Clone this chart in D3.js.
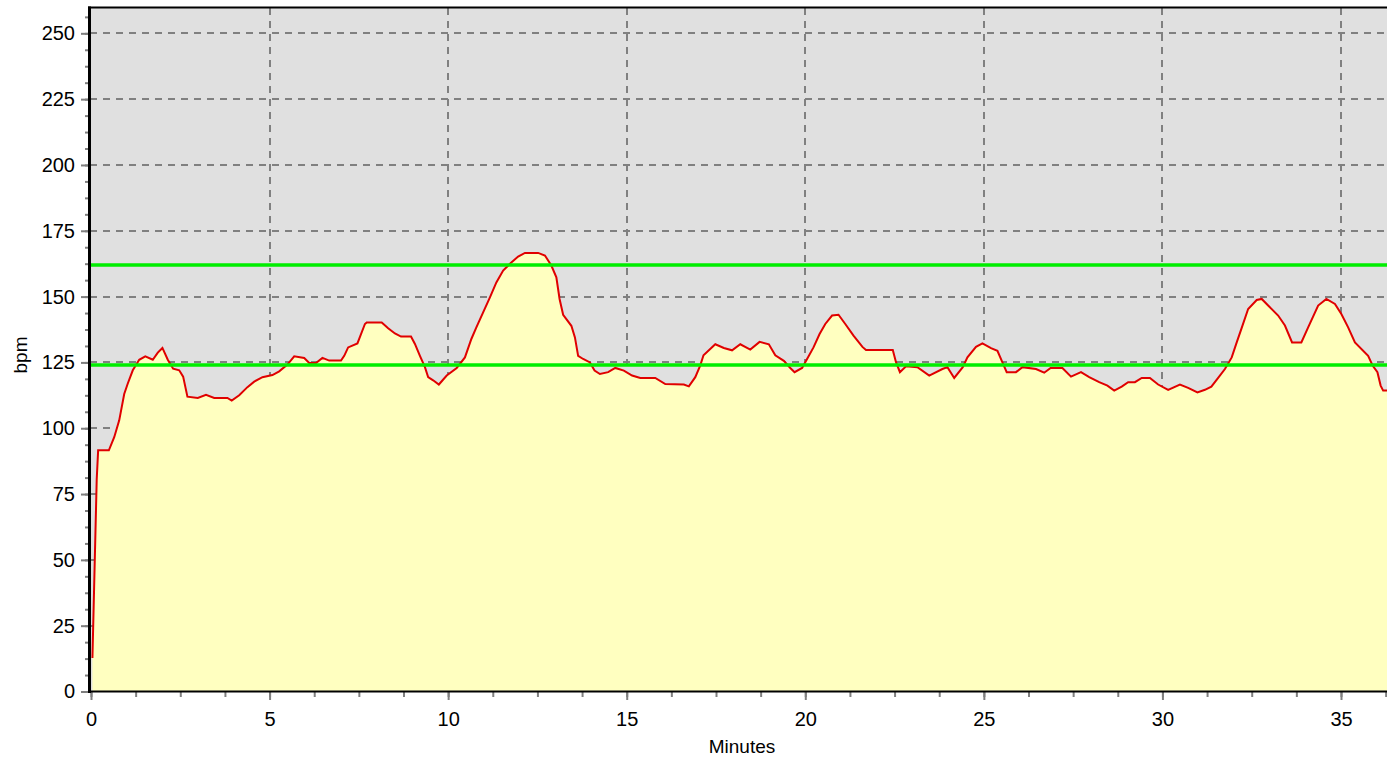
<!DOCTYPE html>
<html>
<head>
<meta charset="utf-8">
<script src="https://cdn.jsdelivr.net/npm/d3@7"></script>
<style>
html,body{margin:0;padding:0;background:#ffffff;}
svg{display:block;}
</style>
</head>
<body>
<svg id="chart" width="1387" height="759"></svg>
<script>
const minutes = [0.04,0.16,0.2,0.5,0.65,0.79,0.93,1.03,1.17,1.35,1.52,1.73,1.87,2.0,2.15,2.3,2.47,2.58,2.7,2.99,3.22,3.45,3.82,3.94,4.15,4.38,4.57,4.8,5.08,5.27,5.5,5.69,5.97,6.11,6.3,6.48,6.67,7.0,7.09,7.2,7.46,7.67,7.72,8.14,8.32,8.51,8.68,8.96,9.07,9.21,9.35,9.44,9.58,9.74,9.96,10.24,10.47,10.65,10.79,10.98,11.17,11.35,11.54,11.77,11.96,12.15,12.52,12.71,12.89,13.03,13.12,13.22,13.45,13.55,13.64,13.78,13.97,14.1,14.25,14.48,14.68,14.92,15.15,15.38,15.8,16.08,16.6,16.74,16.92,17.06,17.15,17.48,17.72,17.95,18.18,18.46,18.72,18.98,19.16,19.4,19.58,19.7,19.91,20.05,20.23,20.4,20.56,20.75,20.93,21.12,21.35,21.6,21.7,22.45,22.54,22.65,22.82,23.14,23.47,23.84,23.98,24.17,24.41,24.54,24.78,24.96,25.2,25.38,25.52,25.64,25.9,26.08,26.46,26.69,26.87,27.2,27.44,27.72,27.95,28.23,28.46,28.65,28.86,29.04,29.23,29.42,29.65,29.88,30.16,30.49,30.72,30.98,31.19,31.37,31.56,31.75,31.94,32.08,32.22,32.4,32.64,32.78,32.96,33.24,33.43,33.63,33.89,34.08,34.36,34.59,34.83,35.01,35.2,35.39,35.76,35.89,36.02,36.11,36.18,36.4];
const bpm = [12.7,80.5,91.6,91.6,96.6,103,113,117,122,126,127.3,126,128.7,130.5,126,122.6,122,119.6,112,111.5,112.7,111.5,111.5,110.5,112.5,115.6,117.7,119.4,120.2,121.6,124.2,127.3,126.7,124.8,124.8,126.7,125.7,125.7,127.5,130.7,132.2,139.6,140.2,140.2,138,136,134.8,134.8,132,127.5,123.2,119.4,118.2,116.6,120,122.9,126.9,133.9,138.3,144,149.7,155.4,159.9,163,165.2,166.6,166.6,165.6,161.8,157.3,149.1,143.1,138.9,134.5,127.5,126.3,125,121.9,120.6,121.3,122.9,121.9,120,119.1,119.1,116.8,116.6,115.9,119.4,123.9,127.7,131.9,130.5,129.6,131.9,129.9,132.8,131.9,127.7,125.6,122.9,121.3,122.9,126.3,130.7,135.8,139.6,142.8,143.1,139.6,135.2,130.9,129.7,129.7,125.1,121.3,123.5,123.2,120,122.5,123.2,119.1,123.2,126.9,130.9,132.2,130.4,129.4,125,121.3,121.3,123.2,122.5,121.1,122.9,122.9,119.6,121.3,119.4,117.5,116.2,114.3,115.8,117.5,117.5,119.1,119.1,116.6,114.6,116.6,115.3,113.6,114.6,115.8,119.1,122.5,126.9,132.6,138.1,145.3,148.7,149.1,146.6,142.8,139,132.6,132.6,138.3,146.6,149.1,147.2,143.4,138.3,132.6,127.5,123.7,121.3,116.2,114.3,114.3];
const zoneLimits = [162, 124];
const xTickValues = [0,5,10,15,20,25,30,35];
const xMinorTicks = d3.range(0, 36.3, 1.25);
const yTickValues = [0,25,50,75,100,125,150,175,200,225,250];
const yMinorTicks = d3.range(0, 260, 6.25);
const xLabel = "Minutes";
const yLabel = "bpm";

const svg = d3.select("#chart");
const plotLeft = 90, plotRight = 1387, plotTop = 8, plotBottom = 691.5;

const x = d3.scaleLinear().domain([0, 35]).range([91, 1341]);
const y = d3.scaleLinear().domain([0, 260]).range([691.5, 7]);

const FONT = "'Liberation Sans', Arial, sans-serif";

svg.append("defs").append("clipPath").attr("id","clip")
  .append("rect").attr("x", plotLeft).attr("y", plotTop)
  .attr("width", plotRight - plotLeft).attr("height", plotBottom - plotTop);

// background
svg.append("rect").attr("x", plotLeft).attr("y", plotTop)
  .attr("width", plotRight - plotLeft).attr("height", plotBottom - plotTop)
  .attr("fill", "#e0e0e0");

const plot = svg.append("g").attr("clip-path", "url(#clip)");

// gridlines
plot.selectAll("line.hgrid").data(yTickValues.filter(d => d > 0)).join("line")
  .attr("x1", plotLeft).attr("x2", plotRight)
  .attr("y1", d => Math.round(y(d))).attr("y2", d => Math.round(y(d)))
  .attr("stroke", "#808080").attr("stroke-width", 2).attr("stroke-dasharray", "7,6");
plot.selectAll("line.vgrid").data(xTickValues.filter(d => d > 0)).join("line")
  .attr("y1", plotTop).attr("y2", plotBottom)
  .attr("x1", d => Math.round(x(d))).attr("x2", d => Math.round(x(d)))
  .attr("stroke", "#808080").attr("stroke-width", 2).attr("stroke-dasharray", "7,6");

const data = minutes.map((m, i) => ({m, v: bpm[i]}));

plot.append("path").datum(data)
  .attr("fill", "#ffffc0")
  .attr("d", d3.area().x(d => x(d.m)).y0(y(0)).y1(d => y(d.v)));

plot.append("path").datum(data)
  .attr("fill", "none").attr("stroke", "#e00000").attr("stroke-width", 2)
  .attr("stroke-linejoin", "miter")
  .attr("d", d3.line().x(d => x(d.m)).y(d => y(d.v)));

plot.selectAll("line.zone").data(zoneLimits).join("line")
  .attr("x1", plotLeft).attr("x2", plotRight)
  .attr("y1", d => y(d)).attr("y2", d => y(d))
  .attr("stroke", "#00ee00").attr("stroke-width", 3.5);

// axes
const yMinor = svg.append("g").attr("transform", "translate(89,0)")
  .call(d3.axisLeft(y).tickValues(yMinorTicks).tickSize(4).tickFormat(""));
const yMajor = svg.append("g").attr("transform", "translate(89,0)")
  .call(d3.axisLeft(y).tickValues(yTickValues).tickSize(8).tickPadding(6));
const xMinor = svg.append("g").attr("transform", "translate(0,692)")
  .call(d3.axisBottom(x).tickValues(xMinorTicks).tickSize(5).tickFormat(""));
const xMajor = svg.append("g").attr("transform", "translate(0,692)")
  .call(d3.axisBottom(x).tickValues(xTickValues).tickSize(8).tickPadding(12));

[yMinor, yMajor, xMinor, xMajor].forEach(g => {
  g.select(".domain").remove();
  g.selectAll(".tick line").attr("stroke", "#7f7f7f").attr("stroke-width", 2);
  g.selectAll(".tick text").attr("fill", "#000").style("font-family", FONT).style("font-size", "20px");
});

// frame lines
svg.append("line").attr("x1", 89.5).attr("x2", 89.5).attr("y1", 6.5).attr("y2", 693)
  .attr("stroke", "#000").attr("stroke-width", 3);
svg.append("line").attr("x1", 88).attr("x2", plotRight).attr("y1", 7.5).attr("y2", 7.5)
  .attr("stroke", "#000").attr("stroke-width", 2);
svg.append("line").attr("x1", 88).attr("x2", plotRight).attr("y1", 691.5).attr("y2", 691.5)
  .attr("stroke", "#000").attr("stroke-width", 2);

// labels
svg.append("text").attr("x", 742).attr("y", 753).attr("text-anchor", "middle")
  .style("font-family", FONT).style("font-size", "19px").attr("fill", "#000").text(xLabel);
svg.append("text").attr("transform", "translate(27,355) rotate(-90)").attr("text-anchor", "middle")
  .style("font-family", FONT).style("font-size", "19px").attr("fill", "#000").text(yLabel);
</script>
</body>
</html>
